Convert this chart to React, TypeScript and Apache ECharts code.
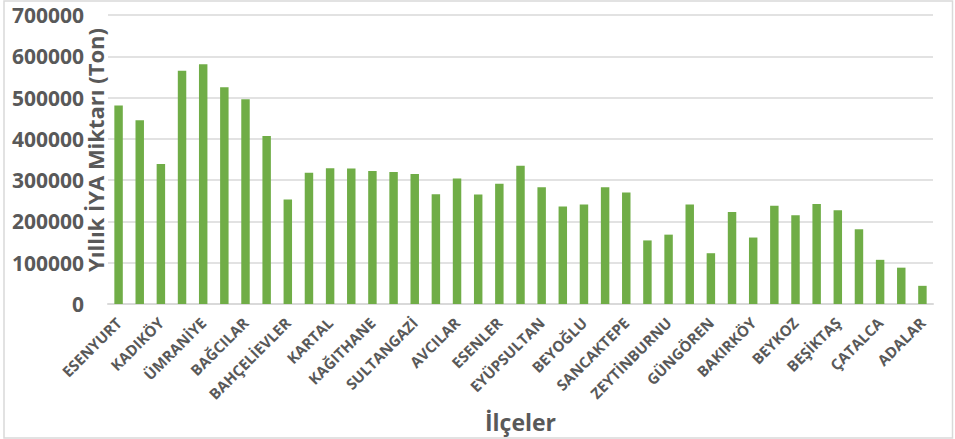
import React, { useEffect, useRef } from "react";
import * as echarts from "echarts";

const districts = [
  "ESENYURT", "KÜÇÜKÇEKMECE", "KADIKÖY", "PENDİK", "ÜMRANİYE", "ÜSKÜDAR",
  "BAĞCILAR", "MALTEPE", "BAHÇELİEVLER", "BAŞAKŞEHİR", "KARTAL", "GAZİOSMANPAŞA",
  "KAĞITHANE", "ATAŞEHİR", "SULTANGAZİ", "FATİH", "AVCILAR", "BEYLİKDÜZÜ",
  "ESENLER", "SARIYER", "EYÜPSULTAN", "ŞİŞLİ", "BEYOĞLU", "TUZLA",
  "SANCAKTEPE", "BAYRAMPAŞA", "ZEYTİNBURNU", "SULTANBEYLİ", "GÜNGÖREN", "ARNAVUTKÖY",
  "BAKIRKÖY", "ÇEKMEKÖY", "BEYKOZ", "BÜYÜKÇEKMECE", "BEŞİKTAŞ", "SİLİVRİ",
  "ÇATALCA", "ŞİLE", "ADALAR",
];

const annualTons = [
  481000, 445000, 339000, 565000, 581000, 525000,
  496000, 407000, 253000, 318000, 329000, 328000,
  322000, 320000, 315000, 266000, 304000, 265000,
  291000, 335000, 283000, 236000, 241000, 283000,
  270000, 154000, 168000, 241000, 123000, 223000,
  161000, 238000, 215000, 242000, 227000, 181000,
  107000, 88000, 44000,
];

const yTicks = { min: 0, max: 700000, interval: 100000 };

const yTitle = "Yıllık İYA Miktarı (Ton)";
const xTitle = "İlçeler";

const FONT = "'Open Sans', 'DejaVu Sans', sans-serif";
const TEXT = "#595959";

export default function App() {
  const ref = useRef<HTMLDivElement>(null);

  useEffect(() => {
    document.body.style.margin = "0";
    if (!ref.current) return;
    const chart = echarts.init(ref.current, null, { renderer: "svg" });
    chart.setOption({
      animation: false,
      backgroundColor: "#ffffff",
      textStyle: { fontFamily: FONT },
      grid: { left: 108, right: 22, top: 15, bottom: 135, containLabel: false },
      xAxis: {
        type: "category",
        data: districts,
        name: xTitle,
        nameLocation: "middle",
        nameGap: 106,
        nameTextStyle: { fontFamily: FONT, fontSize: 23, fontWeight: "bold", color: TEXT },
        axisLine: { show: true, lineStyle: { color: "#d9d9d9", width: 2 } },
        axisTick: { show: false },
        axisLabel: {
          interval: 1,
          rotate: 45,
          margin: 16,
          fontFamily: FONT,
          fontSize: 15,
          fontWeight: "bold",
          color: TEXT,
        },
      },
      yAxis: {
        type: "value",
        min: yTicks.min,
        max: yTicks.max,
        interval: yTicks.interval,
        axisLine: { show: false },
        axisTick: { show: false },
        splitLine: { lineStyle: { color: "#d9d9d9", width: 1.5 } },
        axisLabel: {
          margin: 24,
          fontFamily: FONT,
          fontSize: 21,
          fontWeight: "bold",
          color: TEXT,
          formatter: (v: number) => String(v),
        },
      },
      graphic: [
        {
          type: "rect",
          shape: { x: 4, y: 1, width: 948.5, height: 437 },
          style: { fill: "none", stroke: "#d9d9d9", lineWidth: 1.5 },
          silent: true,
          z: -1,
        },
        {
          type: "text",
          x: 95,
          y: 150,
          rotation: Math.PI / 2,
          style: {
            text: yTitle,
            font: `bold 22px ${FONT}`,
            fill: TEXT,
            align: "center",
            verticalAlign: "middle",
          },
          z: 10,
        },
      ],
      series: [
        {
          type: "bar",
          data: annualTons,
          barWidth: "40%",
          itemStyle: { color: "#70ad47" },
        },
      ],
    });
    return () => chart.dispose();
  }, []);

  return <div ref={ref} style={{ width: 955, height: 439 }} />;
}
